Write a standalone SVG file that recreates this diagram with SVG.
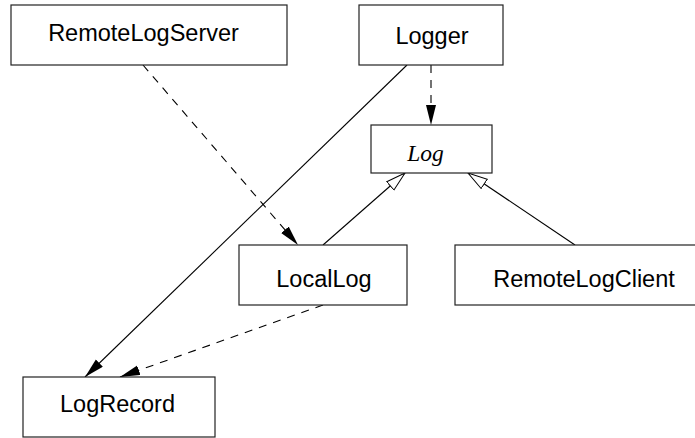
<svg xmlns="http://www.w3.org/2000/svg" width="695" height="438" viewBox="0 0 695 438">
<style>
.box{fill:#fff;stroke:#222;stroke-width:1.2}
.t{font-family:"Liberation Sans",Arial,sans-serif;font-size:23.5px;fill:#000;text-anchor:middle}
.ti{font-family:"Liberation Serif","Times New Roman",serif;font-style:italic;font-size:23.5px;fill:#000;text-anchor:middle}
.c{fill:none;stroke:#000;stroke-width:1.1}
.d{stroke-dasharray:8,7}
</style>
<defs>
<marker id="fa" markerUnits="userSpaceOnUse" markerWidth="22" markerHeight="12" refX="20" refY="5" orient="auto">
<path d="M0,0 L20,5 L0,10 z" fill="#000"/>
</marker>
<marker id="ha" markerUnits="userSpaceOnUse" markerWidth="22" markerHeight="14" refX="20" refY="6" orient="auto">
<path d="M0.5,0.5 L20,6 L0.5,11.5 z" fill="#fff" stroke="#000" stroke-width="1"/>
</marker>
</defs>
<g id="connectors">
<path class="c d" d="M143,65 L298,245" marker-end="url(#fa)"/>
<path class="c d" d="M431,65 L431,125" marker-end="url(#fa)"/>
<path class="c" d="M407,65 L85,377" marker-end="url(#fa)"/>
<path class="c" d="M323,245 L405,173" marker-end="url(#ha)"/>
<path class="c" d="M575,245 L468,173" marker-end="url(#ha)"/>
<path class="c d" d="M323,305 L120,377" marker-end="url(#fa)"/>
</g>
<g id="RemoteLogServer">
<rect class="box" x="11" y="5" width="276" height="60"/>
<text class="t" x="143.5" y="41">RemoteLogServer</text>
</g>
<g id="Logger">
<rect class="box" x="359" y="5" width="144" height="60"/>
<text class="t" x="432" y="44">Logger</text>
</g>
<g id="Log">
<rect class="box" x="371" y="125" width="121" height="48"/>
<text class="ti" x="425.5" y="161">Log</text>
</g>
<g id="LocalLog">
<rect class="box" x="239" y="245" width="168" height="60"/>
<text class="t" x="324" y="287">LocalLog</text>
</g>
<g id="RemoteLogClient">
<rect class="box" x="455" y="245" width="245" height="60"/>
<text class="t" x="584" y="287">RemoteLogClient</text>
</g>
<g id="LogRecord">
<rect class="box" x="23" y="377" width="192" height="60"/>
<text class="t" x="117.5" y="412">LogRecord</text>
</g>
</svg>
